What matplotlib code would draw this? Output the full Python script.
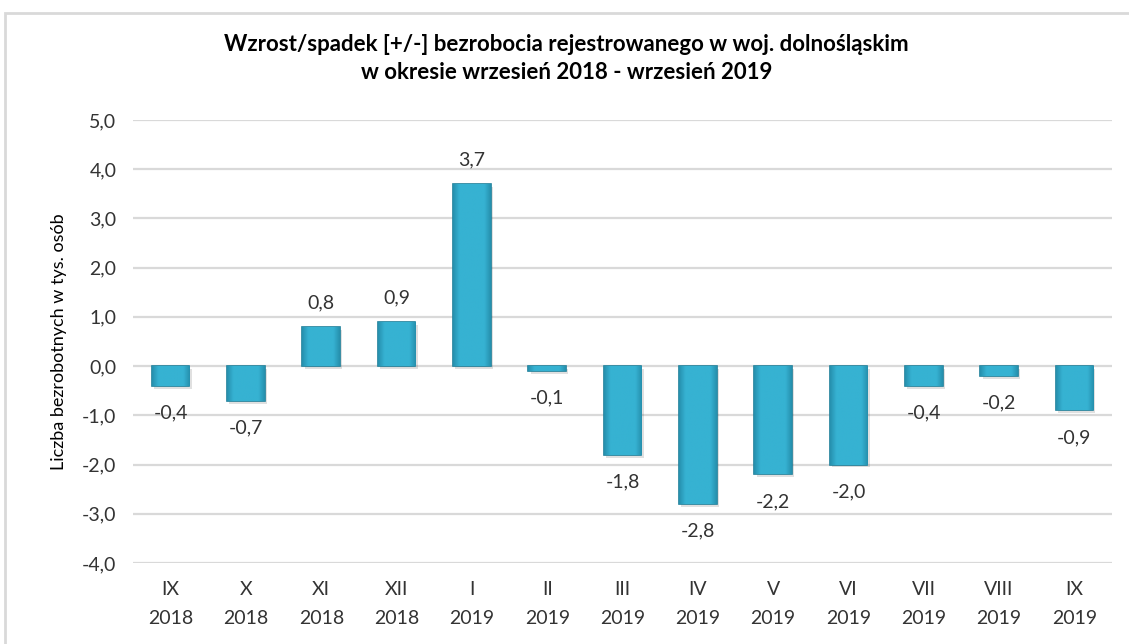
import matplotlib
matplotlib.use('Agg')
from matplotlib import pyplot as plt
from matplotlib.patches import Rectangle
import numpy as np

plt.rcParams['font.family'] = ['Lato', 'DejaVu Sans']

miesiace = ['IX', 'X', 'XI', 'XII', 'I', 'II', 'III', 'IV', 'V', 'VI', 'VII', 'VIII', 'IX']
lata = ['2018', '2018', '2018', '2018', '2019', '2019', '2019', '2019', '2019', '2019', '2019', '2019', '2019']
zmiana = [-0.4, -0.7, 0.8, 0.9, 3.7, -0.1, -1.8, -2.8, -2.2, -2.0, -0.4, -0.2, -0.9]

etykiety = [m + '\n' + r for m, r in zip(miesiace, lata)]
x = np.arange(len(zmiana))

fig = plt.figure(figsize=(11.29, 6.44), dpi=100)
ax = fig.add_axes([0.1178, 0.1258, 0.8672, 0.6879])

# ramka wykresu
fig.patches.append(Rectangle((0.004, -0.01), 1.2, 0.99, transform=fig.transFigure,
                             fill=False, edgecolor='#d9d9d9', linewidth=2))

ax.set_yticks(np.arange(-4, 6, 1))
ax.set_yticklabels([('%.1f' % v).replace('.', ',') for v in np.arange(-4, 6, 1)])
ax.grid(axis='y', color='#d9d9d9', linewidth=1.6)
ax.set_axisbelow(True)
for s in ax.spines.values():
    s.set_visible(False)
ax.tick_params(length=0, labelsize=14, colors='#333333', pad=12)
ax.tick_params(axis='x', pad=13)
ax.set_xticks(x)
ax.set_xticklabels(etykiety, linespacing=1.85)

szer = 0.5
# cien
ax.bar(x + 0.03, zmiana, width=szer, color='#000000', alpha=0.12, zorder=2,
       bottom=-0.06)
slupki = ax.bar(x, zmiana, width=szer, color='#34aece', edgecolor='#1d7f9a',
                linewidth=1.2, zorder=3)

# gradient imitujacy faze
grad = np.linspace(0, 1, 64)
grad = 1 - np.abs(grad - 0.5) * 2
grad = np.minimum(grad * 3, 1)
grad = np.tile(grad, (32, 1))
cm = matplotlib.colors.LinearSegmentedColormap.from_list('b', ['#2690ae', '#36b2d2'])
for b in slupki:
    x0, y0 = b.get_x(), b.get_y()
    w, h = b.get_width(), b.get_height()
    im = ax.imshow(grad, extent=[x0, x0 + w, min(y0, y0 + h), max(y0, y0 + h)],
                   cmap=cm, aspect='auto', zorder=3.5, interpolation='bilinear')
    im.set_clip_path(b)
ax.set_aspect('auto')
ax.set_ylim(-4, 5)
ax.set_xlim(-0.5, len(zmiana) - 0.5)

for xi, v in zip(x, zmiana):
    txt = ('%.1f' % v).replace('.', ',')
    off = 17 if v >= 0 else -19.5
    ax.annotate(txt, (xi, v), xytext=(0, off), textcoords='offset points',
                ha='center', va='center', fontsize=14, color='#333333')

ax.set_ylabel('Liczba bezrobotnych w tys. osób', fontsize=13, color='#000000', labelpad=11)

fig.text(0.502, 0.909, 'Wzrost/spadek [+/-] bezrobocia rejestrowanego w woj. dolnośląskim\nw okresie wrzesień 2018 - wrzesień 2019',
         ha='center', va='center', fontsize=16, fontweight='bold', linespacing=1.4)

plt.savefig('out.png', dpi=100)
